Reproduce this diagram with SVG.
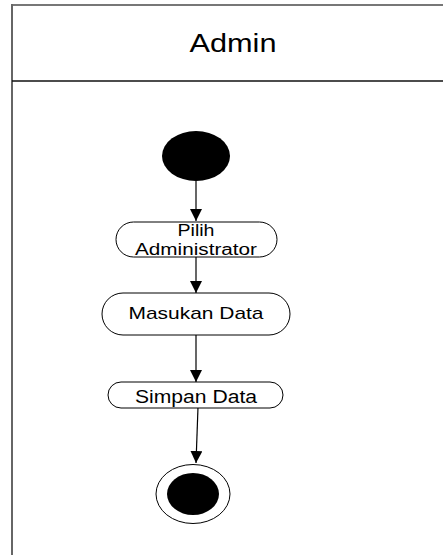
<svg xmlns="http://www.w3.org/2000/svg" width="443" height="555" viewBox="0 0 443 555">
<defs>
<marker id="arr" markerWidth="12" markerHeight="12" refX="12" refY="6" orient="auto" markerUnits="userSpaceOnUse">
<path d="M0,0 L12,6 L0,12 Z" fill="#000"/>
</marker>
<style>
.lbl{font-family:"Liberation Sans",Arial,sans-serif;fill:#000;text-anchor:middle}
.act{fill:#fff;stroke:#000;stroke-width:1}
.edge{stroke:#000;stroke-width:1.2;fill:none;marker-end:url(#arr)}
</style>
</defs>
<rect width="443" height="555" fill="#fff"/>
<g id="swimlane">
<line x1="12" y1="5" x2="443" y2="5" stroke="#777" stroke-width="2"/>
<line x1="12" y1="4" x2="12" y2="555" stroke="#666" stroke-width="2"/>
<line x1="12" y1="81" x2="443" y2="81" stroke="#111" stroke-width="1.5"/>
<text class="lbl" x="233" y="52" font-size="25" textLength="87" lengthAdjust="spacingAndGlyphs">Admin</text>
</g>
<g id="connectors">
<line class="edge" x1="196" y1="181" x2="196" y2="221"/>
<line class="edge" x1="196" y1="257" x2="196" y2="293"/>
<line class="edge" x1="196" y1="335" x2="196" y2="382"/>
<line class="edge" x1="198" y1="407" x2="196" y2="463"/>
</g>
<g id="start">
<ellipse cx="196" cy="156" rx="34" ry="25" fill="#000"/>
</g>
<g id="pilih">
<rect class="act" x="116" y="222" width="161" height="35" rx="17.5"/>
<text class="lbl" x="196" y="236" font-size="16" textLength="37" lengthAdjust="spacingAndGlyphs">Pilih</text>
<text class="lbl" x="196" y="255" font-size="16" textLength="122" lengthAdjust="spacingAndGlyphs">Administrator</text>
</g>
<g id="masukan">
<rect class="act" x="102" y="293" width="188" height="42" rx="21"/>
<text class="lbl" x="196" y="319" font-size="17" textLength="135" lengthAdjust="spacingAndGlyphs">Masukan Data</text>
</g>
<g id="simpan">
<rect class="act" x="108" y="382" width="175" height="26" rx="13"/>
<text class="lbl" x="196" y="403" font-size="17.5" textLength="122" lengthAdjust="spacingAndGlyphs">Simpan Data</text>
</g>
<g id="end">
<ellipse cx="193" cy="494" rx="37" ry="29.5" fill="#fff" stroke="#000" stroke-width="1"/>
<ellipse cx="193" cy="494" rx="26" ry="21" fill="#000"/>
</g>
</svg>
